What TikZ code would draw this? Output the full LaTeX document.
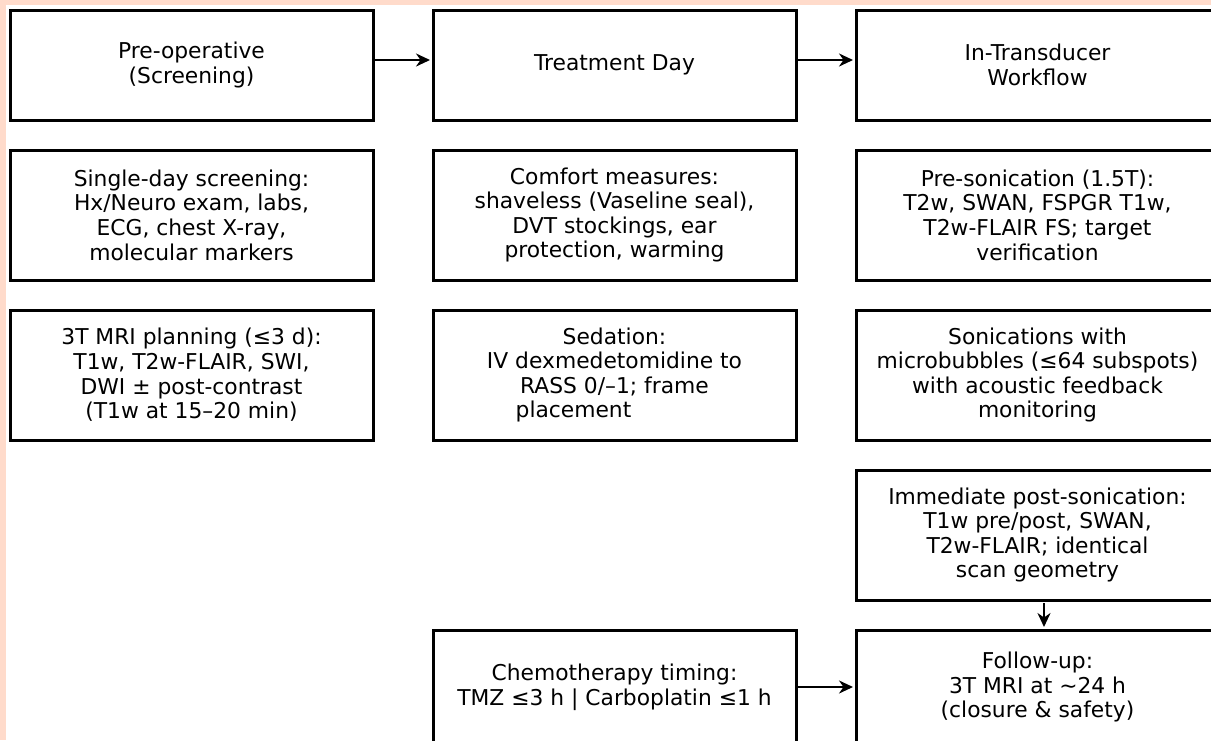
\documentclass[tikz,border=0pt]{standalone}
\usepackage{fontspec}
\setmainfont{DejaVu Sans}
\usetikzlibrary{positioning,arrows.meta}
\definecolor{pagepeach}{HTML}{FFDBCB}

\begin{document}
\begin{tikzpicture}[
x=0.5pt, y=-0.5pt,
font=\fontsize{10.9pt}{12.3pt}\selectfont,
box/.style={draw, line width=1.5pt, align=center, fill=white, inner sep=0pt, outer sep=0pt, minimum width=181.5pt, minimum height=65pt},
headbox/.style={box, minimum height=55pt},
arrow/.style={-{Stealth[length=7pt, width=6.5pt]}, line width=1.3pt, shorten >=1.5pt},
node distance=15pt and 30pt
]
\useasboundingbox (0,0) rectangle (1211,740);
\fill[pagepeach] (0,0) rectangle (1211,740);
\fill[white] (6,5) rectangle (1211,740);

% column heads
\node[headbox] (preop) at (191.5,65) {Pre-operative\\(Screening)};
\node[headbox, right=of preop] (treat) {Treatment Day};
\node[headbox, right=of treat] (intrans) {In-Transducer\\Workflow};

% pre-operative
\node[box, below=of preop] (screen) {Single-day screening:\\Hx/Neuro exam, labs,\\ECG, chest X-ray,\\molecular markers};
\node[box, below=of screen] (mriplan) {3T MRI planning (≤3 d):\\T1w, T2w-FLAIR, SWI,\\DWI ± post-contrast\\(T1w at 15–20 min)};

% treatment day
\node[box, below=of treat] (comfort) {Comfort measures:\\shaveless (Vaseline seal),\\DVT stockings, ear\\protection, warming};
\node[box, below=of comfort] (sedation) {Sedation:\\IV dexmedetomidine to\\RASS 0/–1; frame\\placement\hspace*{41pt}};

% in-transducer
\node[box, below=of intrans] (presonic) {Pre-sonication (1.5T):\\T2w, SWAN, FSPGR T1w,\\T2w-FLAIR FS; target\\verification};
\node[box, below=of presonic] (sonic) {Sonications with\\microbubbles (≤64 subspots)\\with acoustic feedback\\monitoring};
\node[box, below=of sonic] (postson) {Immediate post-sonication:\\T1w pre/post, SWAN,\\T2w-FLAIR; identical\\scan geometry};
\node[headbox, minimum height=57pt, below=of postson] (follow) {Follow-up:\\3T MRI at \char"007E 24 h\\(closure \& safety)};
\node[headbox, minimum height=57pt, left=of follow] (chemo) {Chemotherapy timing:\\TMZ ≤3 h | Carboplatin ≤1 h};

\draw[arrow] ([yshift=2.5pt]preop.east)--([yshift=2.5pt]treat.west);
\draw[arrow] ([yshift=2.5pt]treat.east)--([yshift=2.5pt]intrans.west);
\draw[arrow, shorten <=1.5pt] ([xshift=3.25pt]postson.south)--([xshift=3.25pt]follow.north);
\draw[arrow] (chemo)--(follow);
\end{tikzpicture}
\end{document}
